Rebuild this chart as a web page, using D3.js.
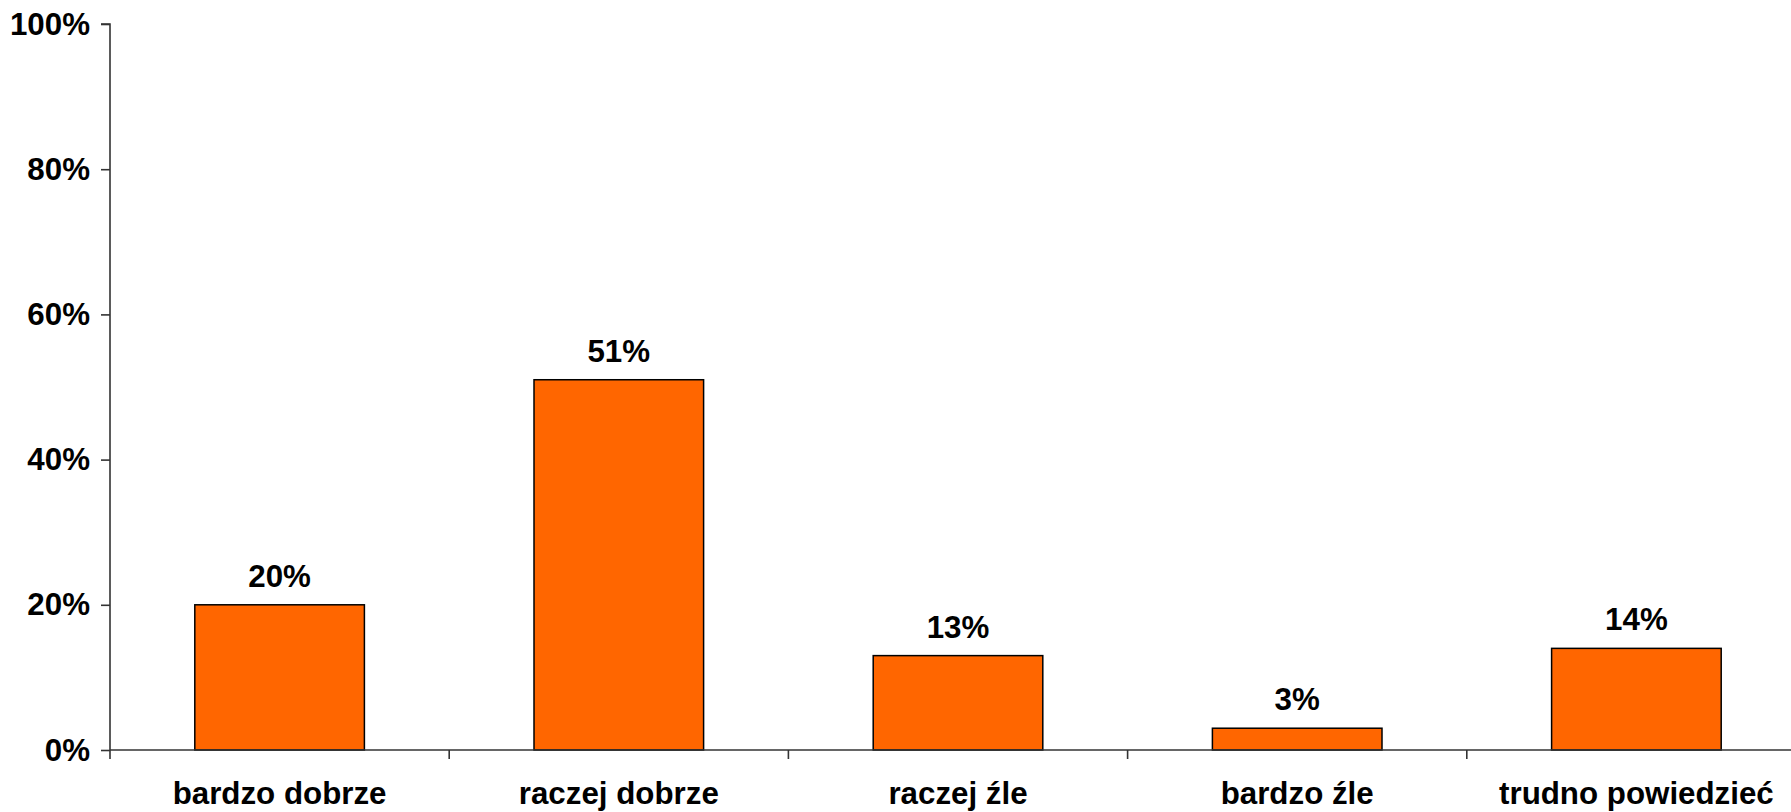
<!DOCTYPE html>
<html><head><meta charset="utf-8">
<script src="https://cdn.jsdelivr.net/npm/d3@7"></script>
<style>
html,body{margin:0;padding:0;background:#fff;overflow:hidden;}
svg{display:block;}
text{font-family:"Liberation Sans",Arial,sans-serif;font-weight:bold;fill:#000;}
</style></head>
<body>
<svg id="chart" width="1791" height="812"></svg>
<script>
const categories = ["bardzo dobrze", "raczej dobrze", "raczej źle", "bardzo źle", "trudno powiedzieć"];
const values = [20, 51, 13, 3, 14];
const yTicks = [0, 20, 40, 60, 80, 100];

(function () {
const svg = d3.select("#chart");
const mLeft = 110, mRight = 1806, mTop = 24, mBottom = 750;
const fs = 31.3;

const x = d3.scaleBand().domain(categories).range([mLeft, mRight]).padding(0);
const y = d3.scaleLinear().domain([0, 100]).range([mBottom, mTop]);

// bars
const bw = x.bandwidth();
svg.append("g").selectAll("rect").data(categories).join("rect")
  .attr("x", d => x(d) + bw * 0.25)
  .attr("y", (d, i) => y(values[i]))
  .attr("width", bw * 0.5)
  .attr("height", (d, i) => y(0) - y(values[i]))
  .attr("fill", "#FF6600")
  .attr("stroke", "#000")
  .attr("stroke-width", 1.5);

// value labels
svg.append("g").selectAll("text").data(categories).join("text")
  .attr("x", d => x(d) + bw / 2)
  .attr("y", (d, i) => y(values[i]) - 18)
  .attr("text-anchor", "middle")
  .attr("font-size", fs)
  .text((d, i) => values[i] + "%");

// y axis
const yAxis = d3.axisLeft(y).tickValues(yTicks).tickFormat(d => d + "%").tickSize(9).tickPadding(11);
const gy = svg.append("g").attr("transform", `translate(${mLeft},0)`).call(yAxis);
gy.select(".domain").attr("stroke", "#333").attr("stroke-width", 1.6).attr("d", `M-9,${mTop}H0V${mBottom}`);
gy.selectAll(".tick line").attr("stroke", "#333").attr("stroke-width", 1.6);
gy.selectAll(".tick text").attr("font-size", fs).attr("font-family", "Liberation Sans, Arial, sans-serif").attr("font-weight", "bold").attr("fill", "#000");

// x axis
const xEdges = categories.map(c => x(c)).concat([mRight]);
const gx = svg.append("g");
gx.append("line").attr("x1", mLeft).attr("x2", mRight).attr("y1", mBottom).attr("y2", mBottom)
  .attr("stroke", "#333").attr("stroke-width", 1.6);
gx.selectAll("line.t").data(xEdges).join("line").attr("class", "t")
  .attr("x1", d => d).attr("x2", d => d).attr("y1", mBottom).attr("y2", mBottom + 9)
  .attr("stroke", "#333").attr("stroke-width", 1.6);
gx.selectAll("text").data(categories).join("text")
  .attr("x", d => x(d) + bw / 2)
  .attr("y", 804)
  .attr("text-anchor", "middle")
  .attr("font-size", fs)
  .text(d => d);
})();
</script>
</body></html>
